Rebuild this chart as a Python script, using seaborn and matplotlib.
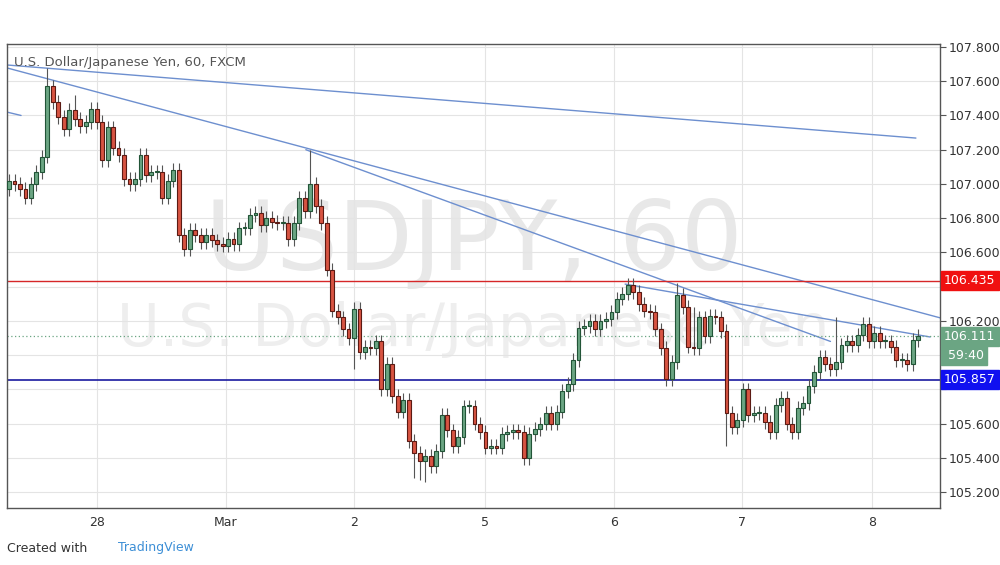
import numpy as np
import matplotlib
matplotlib.use("Agg")
import matplotlib.pyplot as plt
import seaborn as sns

sns.set_style("white")
plt.rcParams['font.family'] = ['DejaVu Sans']

first_open = 106.97
closes = [107.02,107.0,106.97,106.92,107.0,107.07,107.16,107.57,107.48,107.39,107.32,107.43,107.38,107.34,107.36,107.44,
          107.36,107.14,107.33,107.21,107.17,107.03,107.0,107.03,107.17,107.05,107.07,107.07,106.92,107.02,107.08,106.7,
          106.62,106.73,106.7,106.66,106.7,106.67,106.65,106.64,106.68,106.65,106.74,106.74,106.82,106.83,106.76,106.8,
          106.78,106.77,106.77,106.68,106.77,106.92,106.84,107.0,106.87,106.77,106.5,106.26,106.22,106.15,106.1,
          106.27,106.02,106.05,106.04,106.08,105.8,105.95,105.76,105.67,105.74,105.5,105.43,105.38,105.41,105.35,105.44,
          105.65,105.56,105.47,105.52,105.7,105.7,105.6,105.55,105.46,105.47,105.46,105.54,105.55,105.56,105.55,105.4,
          105.54,105.57,105.6,105.66,105.6,105.67,105.79,105.83,105.97,106.16,106.17,106.2,106.15,106.2,106.21,106.25,
          106.33,106.36,106.41,106.37,106.3,106.26,106.25,106.15,106.04,105.86,105.96,106.35,
          106.28,106.05,106.04,106.22,106.11,106.23,106.22,106.14,105.66,105.58,105.62,105.8,105.65,105.66,105.66,105.61,
          105.55,105.71,105.75,105.6,105.55,105.69,105.72,105.82,105.9,105.99,105.95,105.92,105.96,106.06,106.08,106.06,
          106.12,106.18,106.08,106.13,106.08,106.08,106.05,105.97,105.97,105.95,106.09,106.11]
opens = [first_open] + closes[:-1]
wick = 0.04
high_marks = {7: 107.68, 55: 107.2, 113: 106.45, 122: 106.42, 151: 106.22, 12: 107.52, 125: 106.28}
low_marks = {75: 105.27, 76: 105.26, 131: 105.47, 63: 105.92, 74: 105.28}
day_labels = ["28", "Mar", "2", "5", "6", "7", "8"]
day_pos = [16.1, 39.6, 63.0, 86.9, 110.5, 133.9, 157.6]
price_ticks = [105.2,105.4,105.6,105.8,106.0,106.2,106.4,106.6,106.8,107.0,107.2,107.4,107.6,107.8]
hidden_ticks = [105.8, 106.0, 106.4]
trend_lines = [((-0.4, 107.695), (165.6, 107.268)),
               ((-0.4, 107.678), (170.0, 106.218)),
               ((54.2, 107.2), (150.0, 106.08)),
               ((112.5, 106.415), (168.2, 106.106)),
               ((-0.4, 107.42), (2.2, 107.40))]
resistance = 106.435
support = 105.857
last_price = 106.111

fig = plt.figure(figsize=(10, 5.65), dpi=100)
ax = fig.add_axes([0.007, 1-508/565, 0.933, 464/565])
ax.set_xlim(-0.37, 170)
ax.set_ylim(105.107, 107.8175)

ax.set_xticks(day_pos)
ax.set_xticklabels(day_labels, fontsize=9, color='#333')
ax.yaxis.tick_right()
ax.set_yticks(price_ticks)
ax.set_yticklabels(["" if p in hidden_ticks else f"{p:.3f}" for p in price_ticks], fontsize=9, color='#333')
ax.tick_params(axis='both', length=4, color='#555', pad=2)
ax.grid(True, color='#e4e4e4', lw=0.8)
for s in ax.spines.values():
    s.set_color('#555'); s.set_linewidth(1)

ax.text(0.5, 0.57, "USDJPY, 60", transform=ax.transAxes, ha='center', va='center',
        fontsize=70, color='#e8e8e8', zorder=0)
ax.text(0.5, 0.385, "U.S. Dollar/Japanese Yen", transform=ax.transAxes, ha='center', va='center',
        fontsize=42, color='#eeeeee', zorder=0)
ax.text(0.008, 0.975, "U.S. Dollar/Japanese Yen, 60, FXCM", transform=ax.transAxes, ha='left', va='top',
        fontsize=9.5, color='#555')

for (x0, y0), (x1, y1) in trend_lines:
    ax.plot([x0, x1], [y0, y1], color='#6d8fcf', lw=1, zorder=2)

ax.axhline(resistance, color='#d62728', lw=1, zorder=2)
ax.axhline(support, color='#1a1aa0', lw=1.2, zorder=2)
ax.axhline(last_price, color='#6ba583', lw=0.9, ls=(0, (1, 2)), zorder=2)

idx = np.arange(len(closes))
o = np.array(opens); c = np.array(closes)
hi = np.maximum(o, c) + wick
lo = np.minimum(o, c) - wick
for k, v in high_marks.items(): hi[k] = v
for k, v in low_marks.items(): lo[k] = v
up = c >= o
ax.vlines(idx, lo, hi, color='#555555', lw=0.8, zorder=3)
body_h = np.maximum(np.abs(c - o), 0.006)
ax.bar(idx[up], body_h[up], bottom=np.minimum(o, c)[up], width=0.7,
       color='#6ba583', edgecolor='#225437', lw=0.8, zorder=4)
ax.bar(idx[~up], body_h[~up], bottom=np.minimum(o, c)[~up], width=0.7,
       color='#d75442', edgecolor='#5b1a13', lw=0.8, zorder=4)

def tag(y, txt, fc, dy=0):
    ax.annotate(txt, xy=(1.0, y), xycoords=('axes fraction', 'data'), xytext=(3, dy),
                textcoords='offset points', ha='left', va='center', fontsize=9, color='white',
                bbox=dict(boxstyle='square,pad=0.25', fc=fc, ec=fc), annotation_clip=False, zorder=10)
tag(resistance, "106.435", '#f01010')
tag(support, "105.857", '#1010f0')
tag(last_price, "106.111", '#6ba583')
tag(last_price, " 59:40", '#6ba583', dy=-14)

fig.text(0.007, 1-548/565, "Created with", fontsize=9, color='#333', va='center')
fig.text(0.118, 1-548/565, "TradingView", fontsize=9, color='#3d8fd6', va='center')
fig.savefig("out.png", dpi=100, facecolor='white')
